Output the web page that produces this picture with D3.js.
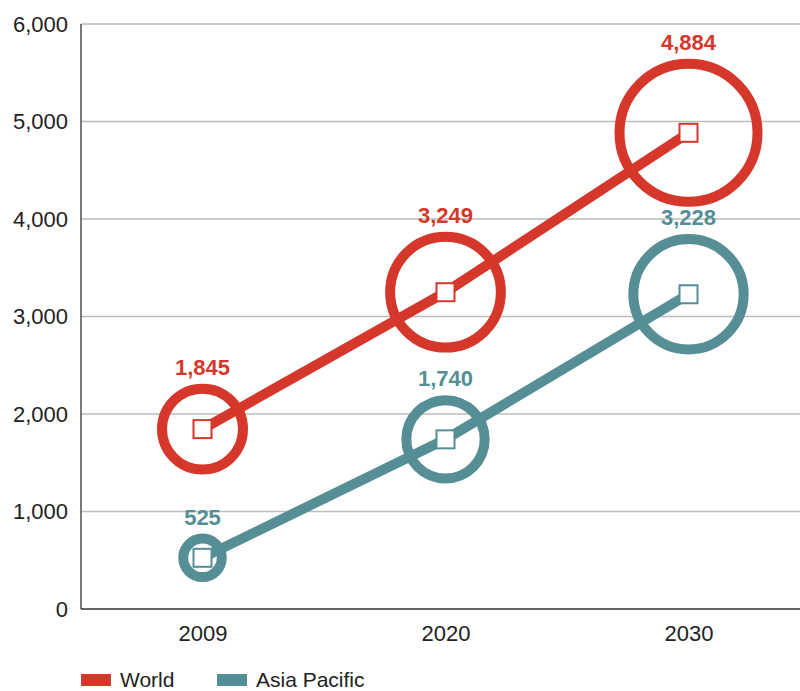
<!DOCTYPE html>
<html>
<head>
<meta charset="utf-8">
<script src="https://cdn.jsdelivr.net/npm/d3@7"></script>
<style>
  html, body { margin: 0; padding: 0; background: #fff; }
  svg { display: block; font-family: "Liberation Sans", Arial, Helvetica, sans-serif; }
</style>
</head>
<body>
<svg id="chart" width="800" height="691"></svg>
<script>
// Years on the x axis
const years = ["2009", "2020", "2030"];
// Series values
const worldValues = [1845, 3249, 4884];
const asiaValues = [525, 1740, 3228];
// Series names
const seriesNames = ["World", "Asia Pacific"];
// Y-axis ticks
const yTicks = [0, 1000, 2000, 3000, 4000, 5000, 6000];

const colors = { "World": "#d5372b", "Asia Pacific": "#568e96" };

const series = [
  { name: seriesNames[0], values: worldValues },
  { name: seriesNames[1], values: asiaValues }
];

const svg = d3.select("#chart");
const plotLeft = 81, plotRight = 810, plotTop = 24, plotBottom = 609;

const x = d3.scalePoint().domain(years).range([plotLeft, plotRight]).padding(0.5);
const y = d3.scaleLinear().domain([0, 6000]).range([plotBottom, plotTop]);
// Outer radius of each ring scales with the square root of its value
const rOuter = d3.scaleSqrt().domain([0, 4884]).range([0, 74]);
const ringWidth = 10;

// Gridlines
svg.append("g")
  .selectAll("line")
  .data(yTicks.filter(d => d > 0))
  .join("line")
  .attr("x1", plotLeft).attr("x2", 800)
  .attr("y1", d => y(d)).attr("y2", d => y(d))
  .attr("stroke", "#bdbdbd").attr("stroke-width", 1.3);

// Y axis
const yAxis = svg.append("g")
  .attr("transform", `translate(${plotLeft},0)`)
  .call(d3.axisLeft(y).tickValues(yTicks).tickSize(0).tickPadding(13).tickFormat(d3.format(",")));
yAxis.select(".domain").attr("stroke", "#333").attr("stroke-width", 1.3).attr("d", `M0,${plotTop}V${plotBottom}`);
yAxis.selectAll("text").attr("font-size", 22).attr("fill", "#222").attr("font-family", "inherit");

// X axis
const xAxis = svg.append("g")
  .attr("transform", `translate(0,${plotBottom})`)
  .call(d3.axisBottom(x).tickSize(0).tickPadding(16));
xAxis.select(".domain").attr("stroke", "#333").attr("stroke-width", 1.6).attr("d", `M${plotLeft},0H800`);
xAxis.selectAll("text").attr("font-size", 22).attr("fill", "#222").attr("font-family", "inherit");

const line = d3.line().x((d, i) => x(years[i])).y(d => y(d));

series.forEach(s => {
  const g = svg.append("g");
  const c = colors[s.name];
  // Rings
  g.selectAll("circle")
    .data(s.values)
    .join("circle")
    .attr("cx", (d, i) => x(years[i]))
    .attr("cy", d => y(d))
    .attr("r", d => rOuter(d) - ringWidth / 2)
    .attr("fill", "none")
    .attr("stroke", c)
    .attr("stroke-width", ringWidth);
  // Connecting line
  g.append("path")
    .datum(s.values)
    .attr("d", line)
    .attr("fill", "none")
    .attr("stroke", c)
    .attr("stroke-width", 10);
  // Square markers
  g.selectAll("rect")
    .data(s.values)
    .join("rect")
    .attr("x", (d, i) => x(years[i]) - 9)
    .attr("y", d => y(d) - 9)
    .attr("width", 18).attr("height", 18)
    .attr("fill", "#fff")
    .attr("stroke", c)
    .attr("stroke-width", 2);
  // Value labels
  g.selectAll("text")
    .data(s.values)
    .join("text")
    .attr("x", (d, i) => x(years[i]))
    .attr("y", d => y(d) - rOuter(d) - 9)
    .attr("text-anchor", "middle")
    .attr("font-size", 22)
    .attr("font-weight", "bold")
    .attr("fill", c)
    .text(d => d3.format(",")(d));
});

// Legend
const legend = svg.append("g").attr("transform", "translate(81,674)");
const legendX = [0, 136];
seriesNames.forEach((n, i) => {
  const lg = legend.append("g").attr("transform", `translate(${legendX[i]},0)`);
  lg.append("rect").attr("width", 30).attr("height", 12).attr("fill", colors[n]);
  lg.append("text").attr("x", 39).attr("y", 12.5)
    .attr("font-size", 21).attr("fill", "#222").text(n);
});
</script>
</body>
</html>
